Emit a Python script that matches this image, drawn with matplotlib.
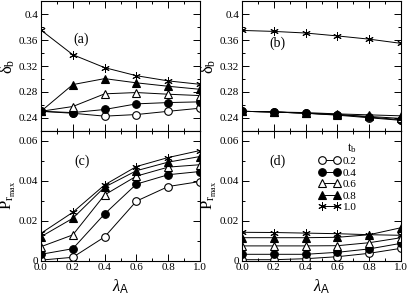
import matplotlib
matplotlib.use("Agg")
import matplotlib.pyplot as plt
from matplotlib.ticker import MultipleLocator

plt.rcParams['font.family'] = ['Liberation Serif', 'DejaVu Serif']
plt.rcParams['mathtext.fontset'] = 'custom'
plt.rcParams['mathtext.rm'] = 'Liberation Serif'
plt.rcParams['mathtext.it'] = 'Liberation Serif:italic'
plt.rcParams['mathtext.sf'] = 'Liberation Sans'

lam = [0.0, 0.2, 0.4, 0.6, 0.8, 1.0]
tb_labels = ['0.2', '0.4', '0.6', '0.8', '1.0']

# panel (a): delta_b
a_02 = [0.250, 0.247, 0.2425, 0.245, 0.250, 0.2548]
a_04 = [0.250, 0.248, 0.2528, 0.2615, 0.2635, 0.2646]
a_06 = [0.250, 0.2574, 0.277, 0.279, 0.2764, 0.2743]
a_08 = [0.250, 0.2913, 0.3005, 0.294, 0.2887, 0.284]
a_10 = [0.3755, 0.3375, 0.3175, 0.305, 0.297, 0.2917]

# panel (b): delta_b
b_02 = [0.250, 0.249, 0.247, 0.244, 0.240, 0.236]
b_04 = [0.250, 0.249, 0.247, 0.245, 0.241, 0.237]
b_06 = [0.250, 0.249, 0.247, 0.245, 0.242, 0.239]
b_08 = [0.250, 0.249, 0.248, 0.246, 0.2445, 0.243]
b_10 = [0.375, 0.3735, 0.371, 0.3665, 0.3615, 0.355]

# panel (c): P_rmax
c_02 = [0.0003, 0.0017, 0.0119, 0.0298, 0.0371, 0.0396]
c_04 = [0.0032, 0.0060, 0.0234, 0.0383, 0.0430, 0.0446]
c_06 = [0.0070, 0.0129, 0.0329, 0.0423, 0.0468, 0.0480]
c_08 = [0.0120, 0.0212, 0.0368, 0.0450, 0.0493, 0.0521]
c_10 = [0.0137, 0.0242, 0.0379, 0.0471, 0.0516, 0.0551]

# panel (d): P_rmax
d_02 = [0.0005, 0.0005, 0.0010, 0.0020, 0.0037, 0.0062]
d_04 = [0.0032, 0.0032, 0.0032, 0.0042, 0.0059, 0.0087]
d_06 = [0.0074, 0.0074, 0.0074, 0.0075, 0.0090, 0.0115]
d_08 = [0.0115, 0.0115, 0.0115, 0.0117, 0.0130, 0.0165]
d_10 = [0.0142, 0.0141, 0.0138, 0.0135, 0.0130, 0.0127]

styles = [
    dict(marker='o', mfc='white', mec='black', ms=5.5),
    dict(marker='o', mfc='black', mec='black', ms=5.5),
    dict(marker='^', mfc='white', mec='black', ms=6),
    dict(marker='^', mfc='black', mec='black', ms=6),
    dict(marker=(6, 2, 0), mfc='black', mec='black', ms=6, mew=0.7),
]

fig = plt.figure(figsize=(4.09, 3.0), dpi=100)
W = 0.389
axA = fig.add_axes([0.1002, 0.5643, W, 0.4313])
axB = fig.add_axes([0.5917, 0.5643, W, 0.4313])
axC = fig.add_axes([0.1002, 0.131, W, 0.4333])
axD = fig.add_axes([0.5917, 0.131, W, 0.4333])

panels = [
    (axA, [a_02, a_04, a_06, a_08, a_10], '(a)'),
    (axB, [b_02, b_04, b_06, b_08, b_10], '(b)'),
    (axC, [c_02, c_04, c_06, c_08, c_10], '(c)'),
    (axD, [d_02, d_04, d_06, d_08, d_10], '(d)'),
]

for ax, series, lab in panels:
    for s, st, tl in zip(series, styles, tb_labels):
        kw = dict(st)
        kw.setdefault('mew', 0.8)
        ax.plot(lam, s, color='black', lw=0.7, label=tl, **kw)
    ax.set_xlim(0, 1)
    ax.xaxis.set_major_locator(MultipleLocator(0.2))
    ax.xaxis.set_minor_locator(MultipleLocator(0.1))
    ax.tick_params(which='both', direction='in', top=True, right=True, labelsize=8, width=0.7)
    ax.tick_params(which='major', length=5)
    ax.tick_params(which='minor', length=2.5)
    ax.tick_params(axis='y', pad=2)
    for sp in ax.spines.values():
        sp.set_linewidth(0.8)

for ax in (axA, axB):
    ax.set_ylim(0.22, 0.42)
    ax.set_yticks([0.24, 0.28, 0.32, 0.36, 0.40])
    ax.set_yticklabels(['0.24', '0.28', '0.32', '0.36', '0.4'])
    ax.yaxis.set_minor_locator(MultipleLocator(0.02))
    ax.set_xticklabels([])
    ax.set_ylabel(r'δ$_\mathrm{b}$', fontsize=12)
    ax.yaxis.set_label_coords(-0.15, 0.5)

for ax in (axC, axD):
    ax.set_ylim(0, 0.065)
    ax.set_yticks([0, 0.02, 0.04, 0.06])
    ax.set_yticklabels(['0', '0.02', '0.04', '0.06'])
    ax.yaxis.set_minor_locator(MultipleLocator(0.01))
    ax.set_xticks(lam)
    ax.set_xticklabels(['0.0', '0.2', '0.4', '0.6', '0.8', '1.0'])
    ax.tick_params(axis='x', pad=2)
    ax.set_ylabel(r'P$_{\mathrm{r}_{\mathrm{max}}}$', fontsize=12)
    ax.yaxis.set_label_coords(-0.145, 0.5)
    ax.set_xlabel(r'$\lambda_{\mathsf{A}}$', fontsize=12, labelpad=4)

axA.text(0.25, 0.362, '(a)', fontsize=10, ha='center', va='center')
axB.text(0.225, 0.355, '(b)', fontsize=10, ha='center', va='center')
axC.text(0.26, 0.0495, '(c)', fontsize=10, ha='center', va='center')
axD.text(0.22, 0.0495, '(d)', fontsize=10, ha='center', va='center')

leg = axD.legend(loc='upper left', bbox_to_anchor=(0.43, 0.98), frameon=False,
                 numpoints=2, fontsize=8, handlelength=2.0, handletextpad=0.2,
                 labelspacing=0.15, borderpad=0.2,
                 title=r't$_\mathrm{b}$', title_fontsize=9)
leg._legend_box.align = 'right'

fig.savefig('out.png', dpi=100)
